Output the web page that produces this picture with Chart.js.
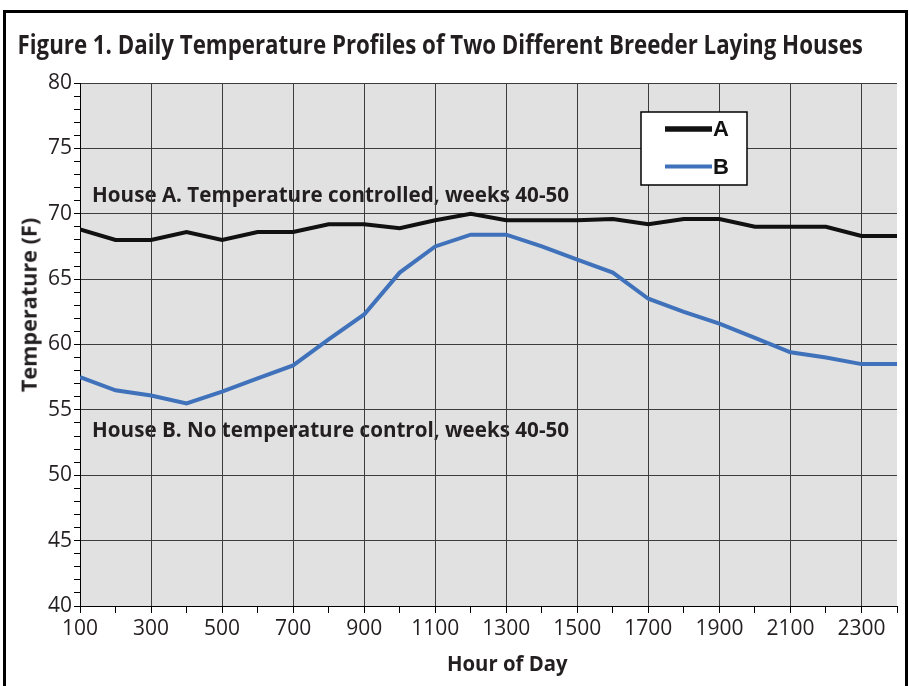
<!DOCTYPE html>
<html>
<head>
<meta charset="utf-8">
<script src="https://cdn.jsdelivr.net/npm/chart.js@4/dist/chart.umd.min.js"></script>
<style>
  html, body { margin: 0; padding: 0; background: #fff; }
  #wrap { position: relative; width: 909px; height: 686px; overflow: hidden; font-family: "Open Sans", sans-serif; color: #231f20; }
  #frame { position: absolute; left: 3px; top: 10px; width: 899px; height: 720px; border: 3px solid #000; }
  #chart { position: absolute; left: 0; top: 0; }
  .txt { position: absolute; font-weight: bold; white-space: nowrap; }
  #title { font-size: 26px; line-height: 26px; }
  #xtitle, #ytitle { font-size: 22px; line-height: 22px; }
</style>
</head>
<body>
<div id="wrap">
  <div id="frame"></div>
  <canvas id="chart" width="909" height="686"></canvas>
  <div id="title" class="txt">Figure 1. Daily Temperature Profiles of Two Different Breeder Laying Houses</div>
  <div id="ytitle" class="txt">Temperature (F)</div>
  <div id="xtitle" class="txt">Hour of Day</div>
</div>
<script>
'use strict';
// hour of day (x) and temperatures in F
const hours = [100, 200, 300, 400, 500, 600, 700, 800, 900, 1000, 1100, 1200,
               1300, 1400, 1500, 1600, 1700, 1800, 1900, 2000, 2100, 2200, 2300, 2400];
const houseA = [68.8, 68.0, 68.0, 68.6, 68.0, 68.6, 68.6, 69.2, 69.2, 68.9, 69.5, 70.0,
                69.5, 69.5, 69.5, 69.6, 69.2, 69.6, 69.6, 69.0, 69.0, 69.0, 68.3, 68.3];
const houseB = [57.5, 56.5, 56.1, 55.5, 56.4, 57.4, 58.4, 60.4, 62.3, 65.5, 67.5, 68.4,
                68.4, 67.5, 66.5, 65.5, 63.5, 62.5, 61.6, 60.5, 59.4, 59.0, 58.5, 58.5];
const seriesNames = ['A', 'B'];
const noteTexts = ['House A. Temperature controlled, weeks 40-50',
                   'House B. No temperature control, weeks 40-50'];

const GRID = '#3c3c3c';
const TEXT = '#231f20';

// place an html label centred on (cx, cy), squeezed to a given width
function place(id, cx, cy, width, rotate) {
    const el = document.getElementById(id);
    const w = el.offsetWidth, h = el.offsetHeight;
    el.style.left = (cx - w / 2) + 'px';
    el.style.top = (cy - h / 2) + 'px';
    el.style.transformOrigin = 'center center';
    el.style.transform = (rotate ? 'rotate(-90deg) ' : '') + 'scaleX(' + (width / w) + ')';
}
place('title', 439.5, 44, 845, false);
place('ytitle', 27, 305, 174, true);
place('xtitle', 507.5, 662, 121, false);

// grey plot background and the two notes, drawn under the grid
const notesPlugin = {
    id: 'notes',
    beforeDraw(chart) {
        const {ctx, chartArea: a, scales: {x, y}} = chart;
        ctx.save();
        ctx.fillStyle = '#e1e1e1';
        ctx.fillRect(a.left, a.top, a.right - a.left, a.bottom - a.top);
        ctx.font = 'bold 22px "Open Sans"';
        ctx.fillStyle = TEXT;
        ctx.textBaseline = 'alphabetic';
        const anchors = [[134, 70.92], [134, 52.94]];
        noteTexts.forEach((t, i) => {
            const w = ctx.measureText(t).width;
            ctx.save();
            ctx.translate(x.getPixelForValue(anchors[i][0]), y.getPixelForValue(anchors[i][1]));
            ctx.scale(477 / w, 1);
            ctx.fillText(t, 0, 0);
            ctx.restore();
        });
        ctx.restore();
    }
};

// boxed legend in the upper right of the plot
const boxLegend = {
    id: 'boxLegend',
    afterDatasetsDraw(chart) {
        const ctx = chart.ctx;
        ctx.save();
        ctx.fillStyle = '#fff';
        ctx.fillRect(641, 112, 106, 73);
        ctx.strokeStyle = '#000';
        ctx.lineWidth = 1.5;
        ctx.strokeRect(641, 112, 106, 73);
        ctx.font = 'bold 22px "Liberation Sans"';
        ctx.textBaseline = 'middle';
        chart.data.datasets.forEach((ds, i) => {
            const ly = 129 + i * 37.5;
            ctx.strokeStyle = ds.borderColor;
            ctx.lineWidth = i === 0 ? 5.5 : 4;
            ctx.beginPath();
            ctx.moveTo(665, ly);
            ctx.lineTo(712, ly);
            ctx.stroke();
            ctx.fillStyle = '#111';
            ctx.fillText(ds.label, 713, ly + 1);
        });
        ctx.restore();
    }
};

const ctx = document.getElementById('chart').getContext('2d');
new Chart(ctx, {
    type: 'line',
    data: {
        datasets: [
            {
                label: seriesNames[0],
                data: hours.map((h, i) => ({x: h, y: houseA[i]})),
                borderColor: '#111111',
                borderWidth: 4,
                pointRadius: 0,
                tension: 0
            },
            {
                label: seriesNames[1],
                data: hours.map((h, i) => ({x: h, y: houseB[i]})),
                borderColor: '#3f72bb',
                borderWidth: 4,
                pointRadius: 0,
                tension: 0
            }
        ]
    },
    options: {
        responsive: false,
        animation: false,
        layout: {padding: {top: 83, right: 12, left: 0, bottom: 0}},
        plugins: {legend: {display: false}, tooltip: {enabled: false}},
        scales: {
            x: {
                type: 'linear',
                min: 100,
                max: 2400,
                afterFit: s => { s.height = 80; },
                border: {display: true, color: '#000', width: 1},
                grid: {
                    color: c => (c.tick && c.tick.value % 200 === 100 && c.tick.value > 100) ? GRID : 'transparent',
                    tickColor: '#000',
                    tickLength: 7
                },
                ticks: {
                    stepSize: 100,
                    autoSkip: false,
                    maxRotation: 0,
                    minRotation: 0,
                    padding: 3,
                    color: TEXT,
                    font: {family: '"Open Sans"', size: 21},
                    callback: v => (v % 200 === 100 && v < 2400) ? String(v) : ''
                }
            },
            y: {
                min: 40,
                max: 80,
                afterFit: s => { s.width = 80; },
                border: {display: true, color: '#000', width: 1},
                grid: {
                    color: c => (c.tick && c.tick.value % 5 === 0 && c.tick.value > 40) ? GRID : 'transparent',
                    tickColor: '#000',
                    tickLength: 6
                },
                ticks: {
                    stepSize: 1,
                    autoSkip: false,
                    padding: 2,
                    color: TEXT,
                    font: {family: '"Open Sans"', size: 21},
                    callback: v => v % 5 === 0 ? String(v) : ''
                }
            }
        }
    },
    plugins: [notesPlugin, boxLegend]
});
</script>
</body>
</html>
